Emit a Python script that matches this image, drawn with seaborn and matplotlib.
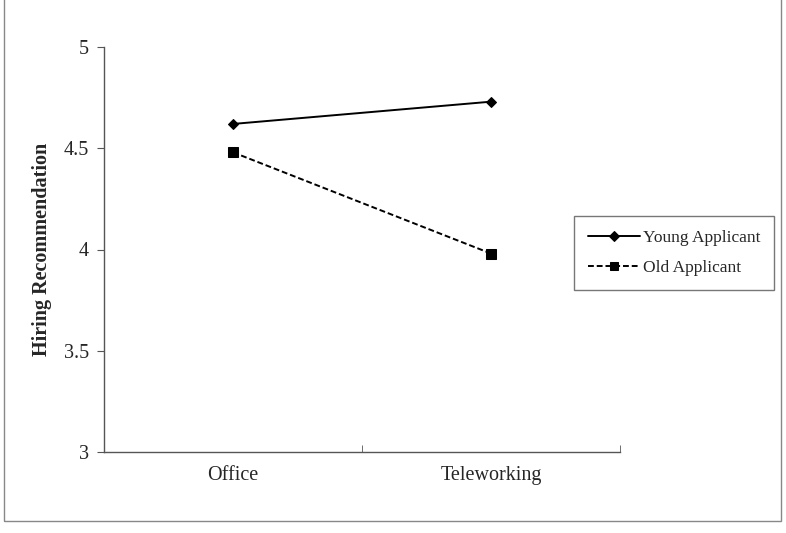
import pandas as pd
import numpy as np
import matplotlib
matplotlib.use("Agg")
import matplotlib.pyplot as plt
from matplotlib.patches import Rectangle
import seaborn as sns

# data
conditions = ["Office", "Teleworking"]
young = [4.62, 4.73]
old = [4.48, 3.98]
groups = ["Young Applicant", "Old Applicant"]

df = pd.DataFrame({
    "condition": conditions * 2,
    "score": young + old,
    "applicant": [groups[0]] * 2 + [groups[1]] * 2,
})

sns.set_style("white")
plt.rcParams["font.family"] = ["Liberation Serif", "DejaVu Serif"]

fig = plt.figure(figsize=(7.86, 5.33), dpi=100)
ax = fig.add_axes([104 / 786, 1 - 452 / 533, 516 / 786, 405 / 533])

sns.lineplot(data=df, x="condition", y="score", hue="applicant", style="applicant",
             palette={groups[0]: "black", groups[1]: "black"},
             markers={groups[0]: "D", groups[1]: "s"},
             dashes={groups[0]: "", groups[1]: (3, 1.5)},
             markersize=7, linewidth=1.4, ax=ax, legend=True)

for ln in ax.lines:
    ln.set_markeredgecolor("black")
ax.lines[0].set_markersize(5.5)

ax.set_xlim(-0.5, 1.5)
ax.set_ylim(3, 5)
ax.set_yticks([3, 3.5, 4, 4.5, 5])
ax.set_yticklabels(["3", "3.5", "4", "4.5", "5"])
ax.set_xticks([0, 1])
ax.set_xticklabels(conditions)
ax.set_xticks([-0.5, 0.5, 1.5], minor=True)
ax.tick_params(axis="x", which="major", length=0, labelsize=14.5, pad=10)
ax.tick_params(axis="x", which="minor", length=5, direction="in", color="#555555", bottom=True)
ax.tick_params(axis="y", length=5, direction="out", color="#555555", labelsize=14.5, left=True, pad=6)
ax.set_xlabel("")
ax.set_ylabel("Hiring Recommendation", fontsize=14.5, fontweight="bold", labelpad=8)

sns.despine(ax=ax)
for side in ["left", "bottom"]:
    ax.spines[side].set_color("#555555")
    ax.spines[side].set_linewidth(1)

leg = ax.legend(loc="upper left", bbox_to_anchor=(574 / 786, 1 - 216 / 533),
                bbox_transform=fig.transFigure, fontsize=12.5, frameon=True,
                fancybox=False, handlelength=3.0, handletextpad=0.15,
                borderpad=0.8, labelspacing=0.8, borderaxespad=0)
leg.get_frame().set_edgecolor("#555555")
leg.get_frame().set_linewidth(1)
for h in leg.legend_handles:
    h.set_markersize(5.5)
leg.legend_handles[0].set_markersize(5)

# outer chart frame
fig.patches.append(Rectangle((4 / 786, 1 - 521 / 533), 777 / 786, 1.5,
                             transform=fig.transFigure, fill=False,
                             edgecolor="#888888", linewidth=1))

fig.savefig("out.png", dpi=100)
